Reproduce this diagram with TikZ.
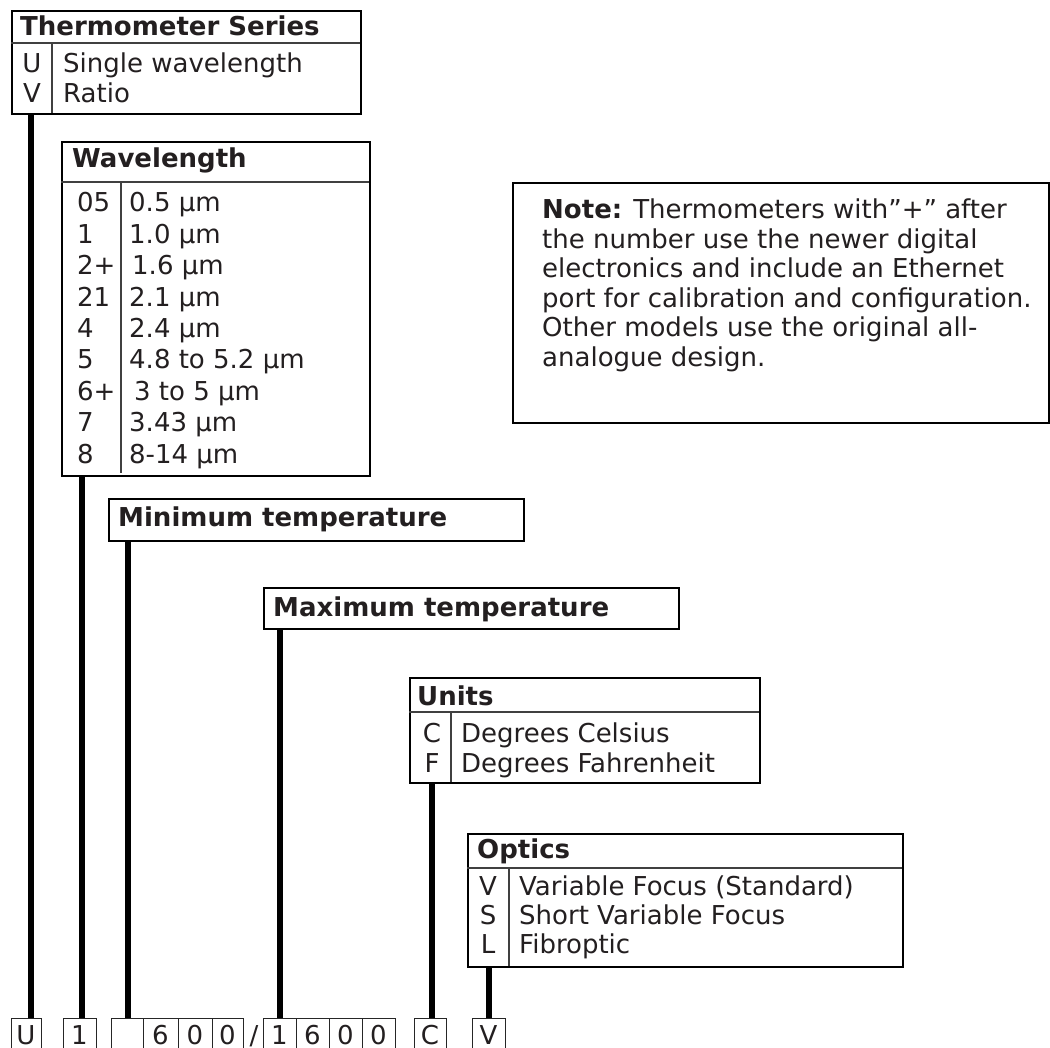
\documentclass[tikz,border=0pt]{standalone}
\usepackage{fontspec}
\setmainfont{DejaVu Sans}
\definecolor{ink}{RGB}{35,31,32}
\newcommand\myfs{\fontsize{26}{30}\selectfont}
\begin{document}
\begin{tikzpicture}[x=1pt,y=-1pt,
 box/.style={draw=black,line width=2.2pt,inner sep=0pt,anchor=north west},
 rule/.style={draw=black!75,line width=1.1pt},
 conn/.style={draw=black,line width=6pt},
 cell/.style={draw=black!85,line width=1.4pt,inner sep=0pt,anchor=north west,minimum height=60pt},
 tx/.style={inner sep=0pt,anchor=base west,text=ink,font=\myfs},
 cx/.style={inner sep=0pt,anchor=base,text=ink,font=\myfs},
 hd/.style={inner sep=0pt,anchor=base west,text=ink,font=\myfs\bfseries}]
\clip (0,0) rectangle (1050,1048);
\fill[white] (0,0) rectangle (1050,1048);

% Thermometer series
\node[box,minimum width=349pt,minimum height=103pt] (ser) at (11,10) {};
\draw[rule] (11,43) -- (360,43);
\draw[rule] (52,43) -- (52,113);
\node[hd] (serT) at (20,36) {Thermometer Series};
\node[cx] (serU) at (32,73) {U};
\node[cx] (serV) at (32,103) {V};
\node[tx] (serUt) at (63,73) {Single wavelength};
\node[tx] (serVt) at (63,103) {Ratio};

% Wavelength
\node[box,minimum width=308pt,minimum height=334pt] (wav) at (61,141) {};
\draw[rule] (61,182) -- (369,182);
\draw[rule] (121,182) -- (121,473);
\node[hd] (wavT) at (72,168) {Wavelength};
\node[tx] (w1c) at (77,212) {05};   \node[tx] (w1v) at (129,212) {0.5 µm};
\node[tx] (w2c) at (77,243.4) {1};  \node[tx] (w2v) at (129,243.4) {1.0 µm};
\node[tx] (w3c) at (77,274.8) {2+}; \node[tx] (w3v) at (132,274.8) {1.6 µm};
\node[tx] (w4c) at (77,306.2) {21}; \node[tx] (w4v) at (129,306.2) {2.1 µm};
\node[tx] (w5c) at (77,337.6) {4};  \node[tx] (w5v) at (129,337.6) {2.4 µm};
\node[tx] (w6c) at (77,369) {5};    \node[tx] (w6v) at (129,369) {4.8 to 5.2 µm};
\node[tx] (w7c) at (77,400.4) {6+}; \node[tx] (w7v) at (134,400.4) {3 to 5 µm};
\node[tx] (w8c) at (77,431.8) {7};  \node[tx] (w8v) at (129,431.8) {3.43 µm};
\node[tx] (w9c) at (77,463.2) {8};  \node[tx] (w9v) at (129,463.2) {8-14 µm};

% Minimum / maximum temperature
\node[box,minimum width=415pt,minimum height=42pt] (mint) at (108,498) {};
\node[hd] (mintT) at (118,526) {Minimum temperature};
\node[box,minimum width=415pt,minimum height=41pt] (maxt) at (263,587) {};
\node[hd] (maxtT) at (273,616) {Maximum temperature};

% Units
\node[box,minimum width=350pt,minimum height=105pt] (units) at (409,677) {};
\draw[rule] (409,712) -- (759,712);
\draw[rule] (451,712) -- (451,782);
\node[hd] (unT) at (417,705) {Units};
\node[cx] (unC) at (432,742) {C}; \node[tx] (unCt) at (461,742) {Degrees Celsius};
\node[cx] (unF) at (432,772) {F}; \node[tx] (unFt) at (461,772) {Degrees Fahrenheit};

% Optics
\node[box,minimum width=435pt,minimum height=133pt] (optics) at (467,833) {};
\draw[rule] (467,868) -- (902,868);
\draw[rule] (509,868) -- (509,966);
\node[hd] (opT) at (477,858) {Optics};
\node[cx] (opV) at (488,895) {V}; \node[tx] (opVt) at (519,895) {Variable Focus (Standard)};
\node[cx] (opS) at (488,924) {S}; \node[tx] (opSt) at (519,924) {Short Variable Focus};
\node[cx] (opL) at (488,953) {L}; \node[tx] (opLt) at (519,953) {Fibroptic};

% Note
\node[box,minimum width=536pt,minimum height=240pt] (note) at (512,182) {};
\node[tx] (n1) at (542,219) {\textbf{Note:} Thermometers with”+” after};
\node[tx] (n2) at (542,248.5) {the number use the newer digital};
\node[tx] (n3) at (542,278) {electronics and include an Ethernet};
\node[tx] (n4) at (542,307.5) {port for calibration and configuration.};
\node[tx] (n5) at (542,337) {Other models use the original all-};
\node[tx] (n6) at (542,366.5) {analogue design.};

% Bottom code cells
\node[cell,minimum width=30pt] (bU) at (11,1018) {};
\node[cell,minimum width=33pt] (b1) at (63,1018) {};
\node[cell,minimum width=32pt] (bE) at (111,1018) {};
\node[cell,minimum width=35pt] (b6) at (143,1018) {};
\node[cell,minimum width=34pt] (b0a) at (178,1018) {};
\node[cell,minimum width=31pt] (b0b) at (212,1018) {};
\node[cell,minimum width=33pt] (c1) at (263,1018) {};
\node[cell,minimum width=33pt] (c6) at (296,1018) {};
\node[cell,minimum width=33pt] (c0a) at (329,1018) {};
\node[cell,minimum width=33pt] (c0b) at (362,1018) {};
\node[cell,minimum width=32pt] (bC) at (414,1018) {};
\node[cell,minimum width=33pt] (bV) at (472,1018) {};
\node[cx] (tU) at (26,1044) {U};
\node[cx] (t1) at (79.5,1044) {1};
\node[cx] (t6) at (160.5,1044) {6};
\node[cx] (t0a) at (195,1044) {0};
\node[cx] (t0b) at (227.5,1044) {0};
\node[cx] (tsl) at (254,1044) {/};
\node[cx] (u1) at (279.5,1044) {1};
\node[cx] (u6) at (312.5,1044) {6};
\node[cx] (u0a) at (345.5,1044) {0};
\node[cx] (u0b) at (378.5,1044) {0};
\node[cx] (tC) at (430,1044) {C};
\node[cx] (tV) at (488.5,1044) {V};

% Connectors
\draw[conn] ([xshift=4]bU.north) -- ([xshift=4]bU.north |- ser.south);
\draw[conn] ([xshift=1.5]b1.north) -- ([xshift=1.5]b1.north |- wav.south);
\draw[conn] (bE.north) -- (bE.north |- mint.south);
\draw[conn] (c1.north) -- (c1.north |- maxt.south);
\draw[conn] ([xshift=1]bC.north) -- ([xshift=1]bC.north |- units.south);
\draw[conn] (bV.north) -- (bV.north |- optics.south);
\end{tikzpicture}
\end{document}
